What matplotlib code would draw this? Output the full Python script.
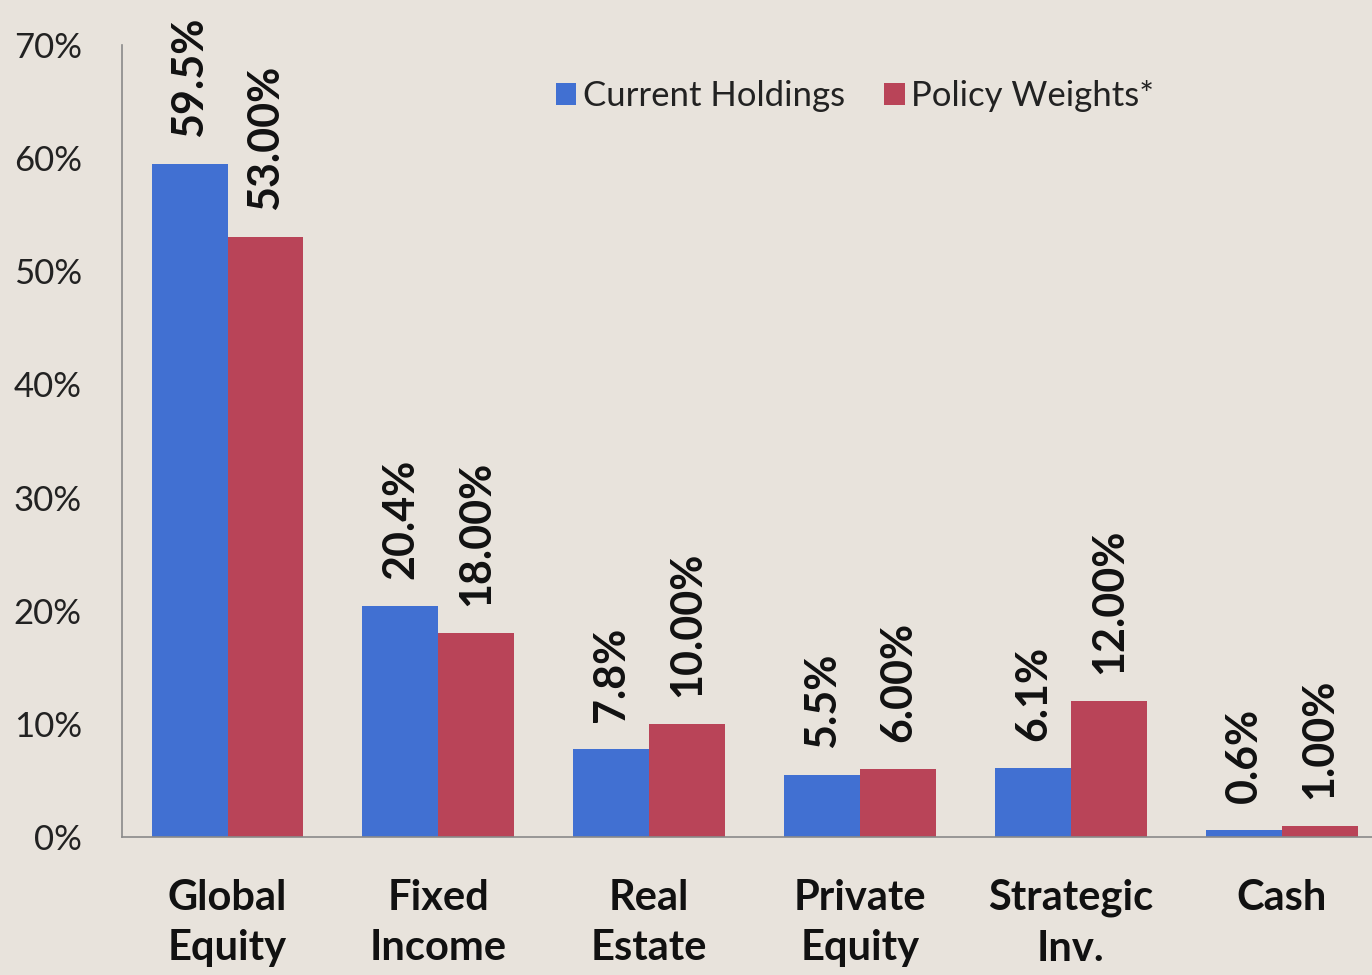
import numpy as np
import matplotlib.pyplot as plt

categories = ['Global\nEquity', 'Fixed\nIncome', 'Real\nEstate', 'Private\nEquity', 'Strategic\nInv.', 'Cash']
current = [59.5, 20.4, 7.8, 5.5, 6.1, 0.6]
policy = [53.0, 18.0, 10.0, 6.0, 12.0, 1.0]
current_labels = ['59.5%', '20.4%', '7.8%', '5.5%', '6.1%', '0.6%']
policy_labels = ['53.00%', '18.00%', '10.00%', '6.00%', '12.00%', '1.00%']
yticks = [0, 10, 20, 30, 40, 50, 60, 70]

bg = '#e8e3dc'
blue = '#4170d2'
red = '#b94458'

plt.rcParams['font.family'] = ['Lato', 'DejaVu Sans']

fig = plt.figure(figsize=(13.72, 9.75), dpi=100, facecolor=bg)
ax = fig.add_axes([0.089, 0.1415, 0.922, 0.8125], facecolor=bg)

x = np.arange(len(categories))
w = 0.36
b1 = ax.bar(x - w / 2, current, w, color=blue, label='Current Holdings')
b2 = ax.bar(x + w / 2, policy, w, color=red, label='Policy Weights*')

for bars, labels in ((b1, current_labels), (b2, policy_labels)):
    for bar, lab in zip(bars, labels):
        ax.text(bar.get_x() + bar.get_width() / 2, bar.get_height() + 2.4, lab,
                rotation=90, ha='center', va='bottom', fontsize=31,
                fontweight='bold', color='#111111')

ax.set_xlim(-0.5, len(categories) - 0.5)
ax.set_ylim(0, 70)
ax.set_yticks(yticks)
ax.set_yticklabels([f'{t}%' for t in yticks], fontsize=25, color='#222222')
ax.set_xticks(x)
ax.set_xticklabels(categories, fontsize=30, fontweight='bold', color='#111111',
                   linespacing=1.4)
ax.tick_params(axis='y', length=0, pad=29)
ax.tick_params(axis='x', length=0, pad=30)

for s in ('top', 'right'):
    ax.spines[s].set_visible(False)
for s in ('left', 'bottom'):
    ax.spines[s].set_color('#8a8a8a')
    ax.spines[s].set_linewidth(1.2)

leg = ax.legend(loc='upper left', bbox_to_anchor=(0.318, 0.995), ncol=2, frameon=False,
                fontsize=25, handlelength=0.6, handleheight=0.6, handletextpad=0.2,
                columnspacing=1.1)
for t in leg.get_texts():
    t.set_color('#222222')

fig.savefig('out.png', dpi=100, facecolor=bg)
